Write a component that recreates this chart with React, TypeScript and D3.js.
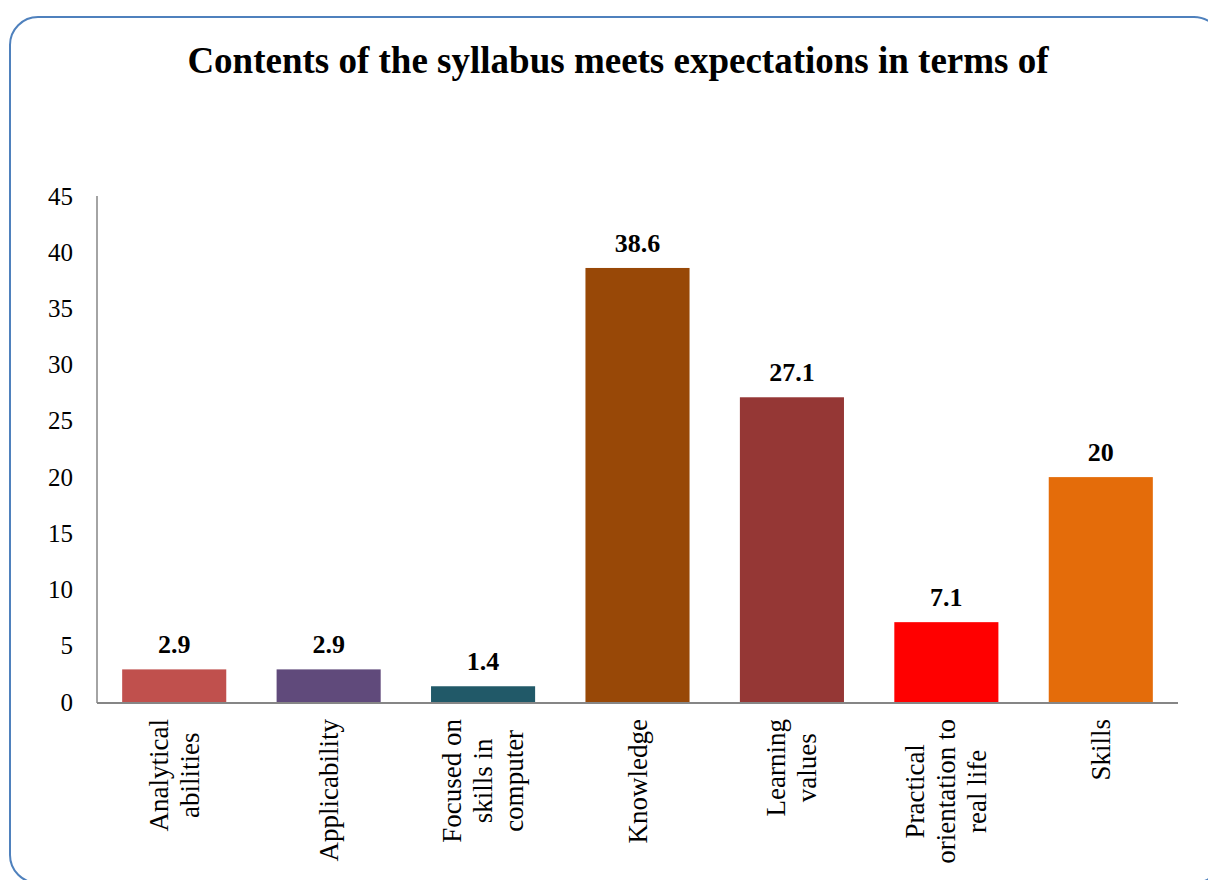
import React, { useEffect, useRef } from "react";
import * as d3 from "d3";

const categories = [
  "Analytical abilities",
  "Applicability",
  "Focused on skills in computer",
  "Knowledge",
  "Learning values",
  "Practical orientation to real life",
  "Skills",
];
const labelLines = [
  ["Analytical", "abilities"],
  ["Applicability"],
  ["Focused on", "skills in", "computer"],
  ["Knowledge"],
  ["Learning", "values"],
  ["Practical", "orientation to", "real life"],
  ["Skills"],
];
const values = [2.9, 2.9, 1.4, 38.6, 27.1, 7.1, 20];
const valueLabels = ["2.9", "2.9", "1.4", "38.6", "27.1", "7.1", "20"];
const colors = ["#C0504D", "#604A7B", "#215968", "#984807", "#953735", "#FF0000", "#E46C0A"];
const yTicks = [0, 5, 10, 15, 20, 25, 30, 35, 40, 45];
const title = "Contents of the syllabus meets expectations in terms of";

const W = 1208;
const H = 880;
const FONT = "'Liberation Serif', 'Times New Roman', serif";

export default function App() {
  const ref = useRef<SVGSVGElement | null>(null);

  useEffect(() => {
    const svg = d3.select(ref.current);
    svg.selectAll("*").remove();

    const left = 97, right = 1178, top = 196, bottom = 702;
    const x = d3.scaleBand<string>().domain(categories).range([left, right]).paddingInner(0.326).paddingOuter(0.163);
    const y = d3.scaleLinear().domain([0, 45]).range([bottom, top]);

    svg.append("rect")
      .attr("x", 10).attr("y", 17).attr("width", 1212).attr("height", 866)
      .attr("rx", 28).attr("ry", 28)
      .attr("fill", "#fff").attr("stroke", "#4F81BD").attr("stroke-width", 2);

    svg.append("text")
      .attr("x", 618).attr("y", 73)
      .attr("text-anchor", "middle")
      .attr("font-family", FONT).attr("font-weight", "bold").attr("font-size", 37)
      .text(title);

    // y tick labels
    svg.append("g").selectAll("text").data(yTicks).join("text")
      .attr("x", 73).attr("y", (d) => y(d) + 8.5)
      .attr("text-anchor", "end")
      .attr("font-family", FONT).attr("font-size", 25).attr("fill", "#000")
      .text((d) => String(d));

    // bars
    svg.append("g").selectAll("rect").data(values).join("rect")
      .attr("x", (_, i) => x(categories[i])!)
      .attr("y", (d) => y(d))
      .attr("width", x.bandwidth())
      .attr("height", (d) => bottom - y(d))
      .attr("fill", (_, i) => colors[i]);

    // axes lines
    svg.append("line").attr("x1", left).attr("x2", left).attr("y1", top).attr("y2", bottom + 1)
      .attr("stroke", "#868686").attr("stroke-width", 1.5);
    svg.append("line").attr("x1", left).attr("x2", right).attr("y1", bottom + 1).attr("y2", bottom + 1)
      .attr("stroke", "#868686").attr("stroke-width", 2);

    // value labels
    svg.append("g").selectAll("text").data(values).join("text")
      .attr("x", (_, i) => x(categories[i])! + x.bandwidth() / 2)
      .attr("y", (d) => y(d) - 16)
      .attr("text-anchor", "middle")
      .attr("font-family", FONT).attr("font-weight", "bold").attr("font-size", 26)
      .text((_, i) => valueLabels[i]);

    // x labels rotated
    const lineH = 31;
    labelLines.forEach((lines, i) => {
      const cx = x(categories[i])! + x.bandwidth() / 2;
      const g = svg.append("g");
      const texts = lines.map((ln) =>
        g.append("text")
          .attr("font-family", FONT).attr("font-size", 27)
          .attr("text-anchor", "middle")
          .text(ln)
      );
      let maxW = 0;
      texts.forEach((t) => {
        const n = t.node() as SVGTextElement;
        maxW = Math.max(maxW, n.getComputedTextLength());
      });
      const centerY = 719 + maxW / 2;
      const n = lines.length;
      texts.forEach((t, k) => {
        const lx = cx + (k - (n - 1) / 2) * lineH + 9;
        t.attr("transform", `translate(${lx},${centerY}) rotate(-90)`);
      });
    });
  }, []);

  return <svg ref={ref} width={W} height={H} style={{ display: "block", position: "absolute", left: 0, top: 0 }} />;
}
